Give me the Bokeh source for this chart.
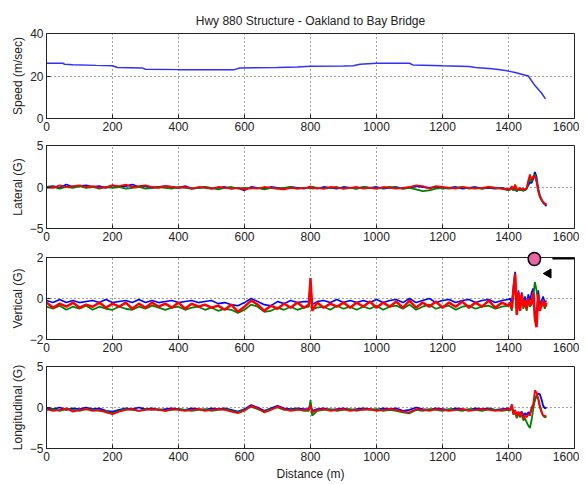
import math
from bokeh.plotting import figure
from bokeh.layouts import column
from bokeh.models import Range1d, FixedTicker, Arrow, Title
from bokeh.embed import file_html
from bokeh.resources import INLINE

# ---------------- data ----------------
title_text = "Hwy 880 Structure - Oakland to Bay Bridge"
x_label = "Distance (m)"
x_ticks = [0, 200, 400, 600, 800, 1000, 1200, 1400, 1600]

speed_dist = [0, 50, 55, 80, 150, 200, 215, 290, 300, 400, 500, 570, 585, 700, 760, 800,
              900, 930, 950, 1000, 1100, 1110, 1200, 1280, 1300, 1350, 1380, 1400, 1420,
              1440, 1460, 1480, 1500, 1512]
speed = [26, 26, 25.5, 25.3, 25, 24.8, 24, 23.8, 23.2, 23, 23, 23, 23.8, 24, 24.2, 24.6,
         24.7, 24.8, 25.5, 26, 26, 25.2, 24.8, 24.5, 24, 23.4, 22.8, 22.3, 21.6,
         20.8, 20.0, 15.5, 12.0, 9.2]

dist = [0, 20, 40, 60, 80, 100, 120, 140, 160, 180, 200, 220, 240, 260, 280, 300, 320, 340,
        360, 380, 400, 420, 440, 460, 480, 500, 520, 540, 560, 580, 600, 620, 640, 660, 680,
        700, 720, 740, 760, 780,
        795, 800, 805,
        820, 840, 860, 880, 900, 920, 940, 960, 980, 1000, 1020, 1040, 1060, 1080, 1100, 1120,
        1140, 1160, 1180, 1200, 1220, 1240, 1260, 1280, 1300, 1320, 1340, 1360, 1380, 1400,
        1405, 1410, 1415, 1420, 1425, 1430, 1435, 1440, 1445, 1450, 1455, 1460, 1465, 1470,
        1475, 1480, 1485, 1490, 1495, 1500, 1505, 1510, 1515]

lat_blue = [0.0, 0.1, -0.1, 0.3, 0.0, 0.1, 0.2, 0.0, 0.1, -0.1, 0.2, 0.0, 0.1, 0.3, 0.0, 0.1, -0.1, 0.0, 0.1, 0.0,
            -0.1, 0.1, -0.2, -0.1, 0.0, -0.2, -0.1, 0.0, -0.2, -0.1, -0.4, 0.0, -0.1, -0.2, 0.0, -0.1, -0.2, 0.0, -0.1, -0.2,
            0.0, -0.1, 0.0,
            -0.2, 0.0, -0.1, -0.2, 0.0, -0.1, -0.2, 0.0, -0.1, 0.0, -0.2, -0.1, 0.0, -0.2, -0.1, 0.1, 0.0, -0.1, 0.0, -0.2,
            -0.1, 0.0, -0.2, -0.1, 0.0, -0.2, -0.1, -0.2, -0.1, -0.3,
            -0.3, -0.1, -0.4, -0.2, -0.5, -0.3, -0.2, -0.4, -0.3, -0.4, -0.2, 0.2, 0.6, 0.5, 1.0, 1.8, 1.2, -0.2, -1.0,
            -1.5, -1.9, -2.1, -2.3]
lat_green = [-0.1, 0.0, -0.2, 0.0, -0.1, 0.1, -0.1, 0.0, -0.2, 0.0, -0.1, 0.0, -0.2, -0.1, 0.0, -0.2, -0.1, 0.0, -0.1, -0.2,
             0.0, -0.1, -0.2, -0.1, 0.0, -0.1, -0.3, -0.1, 0.0, -0.2, -0.1, -0.2, -0.1, -0.3, -0.1, -0.2, -0.1, 0.0, -0.2, -0.1,
             -0.1, -0.2, 0.0,
             -0.1, -0.2, -0.1, 0.0, -0.2, -0.1, -0.2, 0.0, -0.1, -0.2, -0.1, 0.0, -0.1, -0.2, -0.1, -0.3, -0.5, -0.4, -0.2,
             -0.1, -0.2, -0.1, 0.0, -0.2, -0.1, -0.2, 0.0, -0.1, -0.2, -0.4,
             -0.3, -0.2, -0.4, -0.1, -0.5, -0.2, -0.4, -0.3, -0.5, -0.3, -0.2, 0.5, 1.0, 0.7, 1.3, 1.5, 0.8, -0.4, -1.1,
             -1.5, -1.8, -2.0, -2.1]
lat_red = [0.0, -0.1, 0.2, 0.0, 0.1, 0.2, 0.0, 0.1, -0.1, 0.0, 0.2, 0.1, 0.3, 0.0, 0.1, 0.2, 0.0, -0.1, 0.1, 0.0,
           -0.1, 0.0, -0.2, 0.0, -0.1, -0.2, 0.0, -0.1, -0.2, -0.1, -0.3, -0.1, -0.2, 0.0, -0.1, -0.2, -0.3, -0.1, -0.2, -0.1,
           -0.1, 0.1, -0.2,
           -0.1, -0.2, 0.0, -0.1, -0.2, -0.1, 0.0, -0.2, -0.1, -0.2, 0.0, -0.1, -0.2, -0.1, 0.0, 0.2, 0.1, -0.2, 0.1,
           0.0, -0.1, -0.2, 0.0, -0.1, -0.2, -0.1, 0.0, -0.1, -0.2, -0.3,
           -0.2, 0.1, -0.3, 0.3, -0.2, -0.4, -0.1, -0.3, -0.2, -0.3, -0.1, 0.8, 1.5, 0.9, 1.2, 1.3, 0.6, -0.5, -1.2,
           -1.6, -1.8, -2.0, -2.1]

vert_blue = [-0.1, -0.2, -0.05, -0.2, -0.1, -0.2, -0.15, -0.1, -0.2, -0.05, -0.2, -0.15, -0.1, -0.2, -0.05, -0.2,
             -0.1, -0.2, -0.15, -0.1, -0.2, -0.15, -0.1, -0.2, -0.15, -0.1, -0.25, -0.2, -0.3, -0.35, -0.2, 0.0,
             -0.15, -0.3, -0.35, -0.15, -0.25, -0.1, -0.2, -0.15,
             -0.15, 0.7, -0.3,
             -0.15, -0.1, -0.2, -0.05, -0.2, -0.1, -0.2, -0.1, -0.2, -0.05, -0.2, -0.1, -0.05, -0.2, 0.0, -0.2,
             -0.1, 0.0, -0.2, -0.1, -0.05, -0.2, -0.1, -0.05, -0.2, -0.1, -0.05, -0.2, -0.1, -0.05,
             0.0, -0.3, 0.6, 1.3, -0.5, 0.4, -0.3, 0.3, -0.2, 0.1, -0.3, 0.2, -0.1, 0.3, 0.5, -0.6, -0.8, 0.4,
             -0.3, -0.1, 0.1, -0.2, -0.1]
vert_green = [-0.4, -0.5, -0.35, -0.55, -0.4, -0.5, -0.35, -0.55, -0.4, -0.5, -0.55, -0.4, -0.5, -0.55, -0.4, -0.5,
              -0.35, -0.45, -0.55, -0.45, -0.4, -0.55, -0.45, -0.4, -0.55, -0.45, -0.6, -0.5, -0.55, -0.7, -0.55, -0.3,
              -0.4, -0.65, -0.6, -0.45, -0.55, -0.4, -0.55, -0.45,
              -0.4, 0.8, -0.5,
              -0.45, -0.4, -0.55, -0.35, -0.5, -0.4, -0.55, -0.4, -0.5, -0.35, -0.55, -0.4, -0.35, -0.5, -0.3, -0.55,
              -0.4, -0.3, -0.5, -0.4, -0.35, -0.55, -0.4, -0.35, -0.5, -0.4, -0.35, -0.5, -0.4, -0.35,
              -0.3, -0.6, 0.2, 0.8, -0.7, 0.1, -0.5, 0.0, -0.5, -0.2, -0.6, -0.1, -0.4, -0.3, 0.1, 0.8, 0.4, -0.2,
              -0.5, -0.4, -0.2, -0.5, -0.3]
vert_red = [-0.2, -0.45, -0.25, -0.4, -0.2, -0.45, -0.3, -0.4, -0.2, -0.45, -0.25, -0.4, -0.2, -0.5, -0.25, -0.45,
            -0.2, -0.4, -0.25, -0.45, -0.2, -0.5, -0.25, -0.4, -0.3, -0.45, -0.35, -0.55, -0.3, -0.65, -0.4, -0.1,
            -0.3, -0.6, -0.35, -0.5, -0.25, -0.45, -0.2, -0.45,
            -0.3, 1.0, -0.6,
            -0.2, -0.45, -0.25, -0.4, -0.2, -0.45, -0.2, -0.4, -0.15, -0.45, -0.2, -0.4, -0.15, -0.45, -0.1, -0.45,
            -0.2, -0.4, -0.15, -0.45, -0.2, -0.4, -0.15, -0.45, -0.2, -0.4, -0.1, -0.45, -0.2, -0.35,
            -0.2, -0.5, 0.4, 1.2, -0.8, 0.3, -0.6, 0.2, -0.4, -0.1, -0.5, 0.0, -0.3, -0.2, 0.3, -1.0, -1.4, 0.2,
            -0.6, -0.3, -0.1, -0.4, -0.2]

lon_blue = [-0.1, -0.2, 0.0, -0.3, -0.1, -0.2, 0.0, -0.2, -0.1, -0.4, -0.5, -0.3, -0.1, -0.2, 0.0, -0.2, -0.1, -0.3,
            -0.2, -0.1, -0.2, -0.3, -0.1, -0.2, -0.3, -0.1, -0.2, -0.1, -0.3, -0.5, -0.2, 0.3, 0.0, -0.4, -0.1, 0.2,
            -0.1, -0.2, -0.1, -0.2,
            -0.2, 0.5, -0.4,
            -0.2, -0.1, -0.3, -0.2, -0.1, -0.3, -0.2, -0.1, -0.2, -0.3, -0.1, -0.2, -0.1, -0.4, -0.3, 0.0, -0.2,
            -0.3, -0.1, -0.2, -0.3, -0.1, -0.2, -0.3, -0.1, -0.2, -0.1, -0.3, -0.2, -0.1,
            -0.2, 0.2, -0.6, -0.4, -0.9, -0.6, -0.8, -0.5, -1.0, -0.7, -0.9, -0.6, -0.7, -0.2, 0.2, 0.9, 1.4, 1.7,
            1.6, 1.0, 0.2, -0.1, 0.0]
lon_green = [-0.3, -0.2, -0.4, -0.2, -0.3, -0.4, -0.2, -0.3, -0.4, -0.5, -0.7, -0.4, -0.2, -0.3, -0.4, -0.2, -0.3,
             -0.2, -0.4, -0.3, -0.2, -0.3, -0.4, -0.3, -0.2, -0.4, -0.3, -0.2, -0.4, -0.6, -0.3, 0.1, -0.2, -0.5,
             -0.2, 0.0, -0.3, -0.3, -0.2, -0.4,
             -0.4, 0.9, -1.0,
             -0.4, -0.3, -0.2, -0.4, -0.3, -0.2, -0.4, -0.2, -0.3, -0.2, -0.4, -0.3, -0.4, -0.6, -0.7, -0.3, -0.4,
             -0.2, -0.3, -0.4, -0.2, -0.3, -0.4, -0.2, -0.3, -0.4, -0.2, -0.3, -0.4, -0.3,
             -0.4, 0.1, -0.9, -0.5, -1.3, -0.7, -1.2, -0.8, -1.6, -1.3, -1.8, -2.2, -2.5, -1.5, -0.2, 1.0, 1.5, 1.2,
             0.3, -0.4, -1.0, -1.2, -1.1]
lon_red = [-0.2, -0.4, -0.3, -0.1, -0.5, -0.3, -0.2, -0.4, -0.3, -0.6, -0.8, -0.5, -0.3, -0.2, -0.4, -0.3, -0.2,
           -0.3, -0.4, -0.2, -0.3, -0.4, -0.3, -0.2, -0.4, -0.3, -0.2, -0.3, -0.5, -0.7, -0.4, 0.2, -0.1, -0.6,
           -0.3, 0.1, -0.2, -0.4, -0.3, -0.3,
           -0.3, 0.3, -0.6,
           -0.3, -0.2, -0.4, -0.3, -0.2, -0.4, -0.3, -0.3, -0.2, -0.4, -0.3, -0.2, -0.3, -0.5, -0.6, -0.2, -0.3,
           -0.4, -0.2, -0.3, -0.4, -0.3, -0.2, -0.4, -0.3, -0.2, -0.3, -0.4, -0.3, -0.2,
           -0.3, 0.4, -0.8, -0.3, -1.2, -0.5, -1.0, -0.6, -1.4, -1.0, -1.2, -0.8, -1.0, 0.0, 0.4, 2.1, 1.8, 1.0,
           0.0, -0.6, -1.0, -1.0, -1.1]

# marker overlay seen on the reference (pointer triangle and line)
marker_y = 1.95
marker_tri = (1521, 1.22)
marker_line_x = (1533, 1650)

FONT = "Liberation Sans"
FS = "12px"
BLUE, GREEN, RED = "#0000ff", "#008000", "#ff0000"


def make_fig(height, ylim, yticks, ylabel, top, bottom, title=None, xlabel=None):
    p = figure(width=579, height=height, x_range=Range1d(0, 1600), y_range=Range1d(*ylim),
               output_backend="svg", toolbar_location=None,
               min_border_left=46, min_border_right=5, min_border_top=top, min_border_bottom=bottom)
    p.background_fill_color = "white"
    p.border_fill_color = "white"
    p.outline_line_color = "#222222"
    p.outline_line_width = 1
    p.xaxis.ticker = FixedTicker(ticks=x_ticks)
    p.yaxis.ticker = FixedTicker(ticks=yticks)
    for ax in (p.xaxis[0], p.yaxis[0]):
        ax.major_tick_in = 4
        ax.major_tick_out = 0
        ax.minor_tick_line_color = None
        ax.axis_line_color = "#222222"
        ax.major_tick_line_color = "#222222"
        ax.major_label_text_font = FONT
        ax.major_label_text_font_size = FS
        ax.major_label_text_color = "#222222"
        ax.axis_label_text_font = FONT
        ax.axis_label_text_font_size = FS
        ax.axis_label_text_font_style = "normal"
        ax.axis_label_text_color = "#222222"
        ax.major_label_standoff = 3
        ax.axis_label_standoff = 2
    p.yaxis.axis_label = ylabel
    if xlabel:
        p.xaxis.axis_label = xlabel
        p.xaxis.axis_label_standoff = 3
    for g in (p.xgrid[0], p.ygrid[0]):
        g.grid_line_color = "#444444"
        g.grid_line_dash = "1 3"
        g.grid_line_width = 1
    p.xgrid.ticker = FixedTicker(ticks=x_ticks)
    p.ygrid.ticker = FixedTicker(ticks=yticks)
    if title:
        p.title.text = title
        p.title.align = "center"
        p.title.text_font = FONT
        p.title.text_font_size = FS
        p.title.text_font_style = "normal"
        p.title.text_color = "#222222"
        p.title.standoff = 12
    return p


p1 = make_fig(138, (0, 40), [0, 20, 40], "Speed (m/sec)", 33, 20, title=title_text)
p1.line(speed_dist, speed, line_color="#3030ff", line_width=1.5)

p2 = make_fig(110, (-5, 5), [-5, 0, 5], "Lateral (G)", 7, 20)
p2.line(dist, lat_blue, line_color=BLUE, line_width=1.8)
p2.line(dist, lat_green, line_color=GREEN, line_width=1.8)
p2.line(dist, lat_red, line_color=RED, line_width=1.8)

p3 = make_fig(111, (-2, 2), [-2, 0, 2], "Vertical (G)", 9, 20)
p3.line(dist, vert_blue, line_color=BLUE, line_width=1.6)
p3.line(dist, vert_green, line_color=GREEN, line_width=1.8)
p3.line(dist, vert_red, line_color=RED, line_width=2.5)
p3.add_layout(Arrow(end=None, x_start=marker_line_x[0], y_start=marker_y,
                    x_end=marker_line_x[1], y_end=marker_y,
                    line_color="black", line_width=2))
p3.scatter([marker_tri[0]], [marker_tri[1]], marker="triangle", size=9, angle=math.pi / 2,
           fill_color="black", line_color="black")
# pink marker dot sitting on the top edge of the vertical panel (drawn unclipped)
p3.add_layout(Title(text=" ", align="right", offset=34, standoff=-16, vertical_align="bottom",
                    text_font_size="1px", padding=6, border_radius=8,
                    background_fill_color="#e764a6", border_line_color="black",
                    border_line_width=1.5), "above")

p4 = make_fig(124, (-5, 5), [-5, 0, 5], "Longitudinal (G)", 7, 33, xlabel=x_label)
p4.line(dist, lon_blue, line_color=BLUE, line_width=1.8)
p4.line(dist, lon_green, line_color=GREEN, line_width=1.8)
p4.line(dist, lon_red, line_color=RED, line_width=1.8)

layout = column(p1, p2, p3, p4, spacing=0)
open("out.html", "w").write(file_html(layout, INLINE))
